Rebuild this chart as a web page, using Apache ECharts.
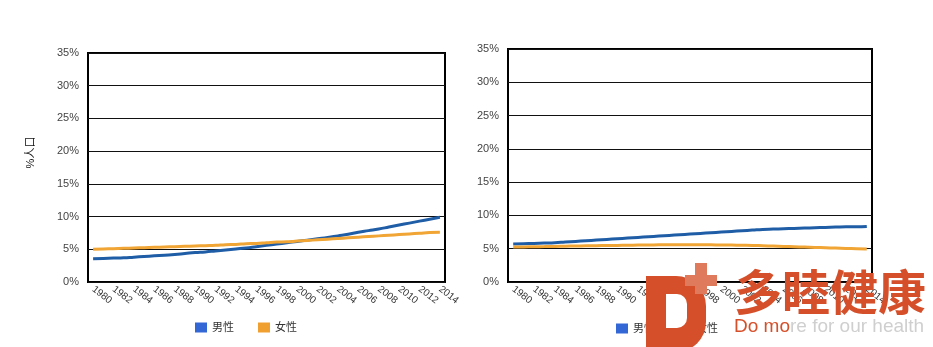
<!DOCTYPE html>
<html><head><meta charset="utf-8">
<script src="https://cdn.jsdelivr.net/npm/echarts@6/dist/echarts.min.js"></script>
<style>html,body{margin:0;padding:0;background:#fff}#c{width:933px;height:347px}</style>
</head><body><div id="c"></div>
<script>
const years = [];
for (let y = 1980; y <= 2014; y++) years.push(String(y));
const yTicks = [0, 5, 10, 15, 20, 25, 30, 35];
const leftMale = [3.55,3.6,3.65,3.7,3.8,3.9,4.0,4.1,4.2,4.35,4.5,4.6,4.75,4.9,5.05,5.2,5.4,5.6,5.8,6.0,6.2,6.4,6.6,6.8,7.05,7.3,7.6,7.85,8.1,8.4,8.7,9.0,9.3,9.6,9.9];
const leftFemale = [5.0,5.05,5.1,5.15,5.2,5.25,5.3,5.35,5.4,5.45,5.5,5.55,5.6,5.7,5.75,5.85,5.9,6.0,6.1,6.15,6.25,6.35,6.45,6.55,6.65,6.75,6.85,6.95,7.05,7.15,7.25,7.35,7.45,7.55,7.6];
const rightMale = [5.7,5.75,5.8,5.85,5.9,6.0,6.1,6.2,6.3,6.4,6.5,6.6,6.7,6.8,6.9,7.0,7.1,7.2,7.3,7.4,7.5,7.6,7.7,7.8,7.9,7.95,8.0,8.05,8.1,8.15,8.2,8.25,8.3,8.3,8.35];
const rightFemale = [5.25,5.27,5.3,5.32,5.35,5.38,5.4,5.43,5.45,5.48,5.5,5.52,5.54,5.56,5.58,5.6,5.6,5.6,5.6,5.58,5.56,5.54,5.52,5.5,5.45,5.4,5.35,5.3,5.25,5.2,5.15,5.1,5.05,5.0,4.95];
const seriesNames = ['男性', '女性'];
const yName = '%人口';

const blue = '#1f5da6', orange = '#f0a535';
const font = 'Arial, "Liberation Sans", "Noto Sans CJK SC", sans-serif';

function xAxis(gi) {
  return {
    type: 'category', gridIndex: gi, data: years, boundaryGap: true,
    axisLine: { show: false }, axisTick: { show: false },
    axisLabel: { interval: 1, rotate: -38, fontSize: 10, color: '#333', fontFamily: font, margin: 6 }
  };
}
function yAxis(gi, withName) {
  return {
    type: 'value', gridIndex: gi, min: yTicks[0], max: yTicks[yTicks.length - 1], interval: 5,
    name: withName ? yName : '', nameLocation: 'middle', nameGap: 52, nameRotate: 90,
    nameTextStyle: { fontSize: 11, color: '#111', fontFamily: font, padding: [0, 0, 0, 30] },
    axisLine: { show: false }, axisTick: { show: false },
    axisLabel: { fontSize: 11, color: '#444', fontFamily: font, margin: 9, formatter: '{value}%' },
    splitLine: { lineStyle: { color: '#111', width: 1 } }
  };
}
function line(name, data, color, gi) {
  return {
    type: 'line', name, data, xAxisIndex: gi, yAxisIndex: gi, smooth: true,
    showSymbol: false, symbol: 'none', lineStyle: { color, width: 3 }, itemStyle: { color }
  };
}
const chart = echarts.init(document.getElementById('c'));
chart.setOption({
  animation: false,
  backgroundColor: '#fff',
  grid: [
    { left: 88, right: 488, top: 53, bottom: 65, containLabel: false, outerBoundsMode: 'none', show: true, borderColor: '#000', borderWidth: 2, backgroundColor: 'transparent' },
    { left: 508, right: 61, top: 49, bottom: 65, containLabel: false, outerBoundsMode: 'none', show: true, borderColor: '#000', borderWidth: 2, backgroundColor: 'transparent' }
  ],
  xAxis: [xAxis(0), xAxis(1)],
  yAxis: [yAxis(0, true), yAxis(1, false)],
  legend: [
    { left: 190, top: 317, itemWidth: 12, itemHeight: 10, itemGap: 24, icon: 'rect',
      textStyle: { fontSize: 11, color: '#333', fontFamily: font },
      data: [{ name: seriesNames[0], itemStyle: { color: '#3467d6' } }, { name: seriesNames[1], itemStyle: { color: '#f0a030' } }] },
    { left: 611, top: 318, itemWidth: 12, itemHeight: 10, itemGap: 24, icon: 'rect',
      textStyle: { fontSize: 11, color: '#333', fontFamily: font },
      data: [{ name: seriesNames[0], itemStyle: { color: '#3467d6' } }, { name: seriesNames[1], itemStyle: { color: '#f0a030' } }] }
  ],
  series: [
    line(seriesNames[0], leftMale, blue, 0),
    line(seriesNames[1], leftFemale, orange, 0),
    line(seriesNames[0], rightMale, blue, 1),
    line(seriesNames[1], rightFemale, orange, 1)
  ],
  graphic: [
    { type: 'rect', z: 100, shape: { x: 646, y: 276, width: 60, height: 76, r: [0, 30, 30, 0] }, style: { fill: '#d5502a' } },
    { type: 'rect', z: 101, shape: { x: 666, y: 294, width: 21, height: 34, r: [0, 10, 10, 0] }, style: { fill: '#fff' } },
    { type: 'rect', z: 102, shape: { x: 695, y: 263, width: 12, height: 31 }, style: { fill: '#e07a5c' } },
    { type: 'rect', z: 102, shape: { x: 685, y: 275, width: 32, height: 11 }, style: { fill: '#e07a5c' } },
    { type: 'text', z: 102, left: 734, top: 268, style: { text: '多睦健康', fontSize: 48, fontWeight: 'bold', fill: '#d5502a', fontFamily: '"Noto Sans CJK SC", sans-serif' } },
    { type: 'text', z: 102, left: 734, top: 317, style: {
        text: '{a|Do mo}{b|re for our health}',
        rich: {
          a: { fontSize: 19, fill: '#d5502a', fontFamily: '"Liberation Sans", Arial, sans-serif' },
          b: { fontSize: 19, fill: '#cfcfcf', fontFamily: '"Liberation Sans", Arial, sans-serif' }
        } } }
  ]
});
</script></body></html>
